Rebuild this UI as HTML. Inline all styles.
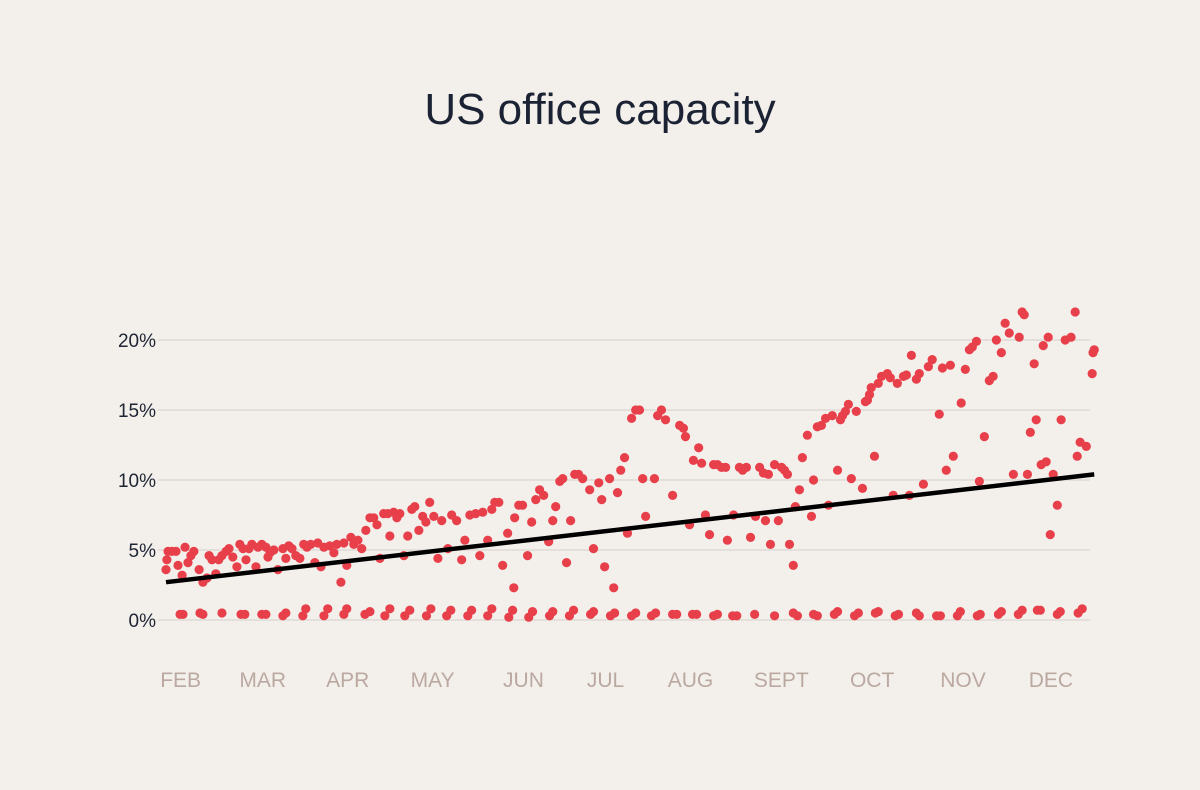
<!DOCTYPE html>
<html><head><meta charset="utf-8"><style>
html,body{margin:0;padding:0;background:#f3efeb;}
svg{display:block;font-family:"Liberation Sans",sans-serif;}
</style></head><body>
<svg id="chart" width="1200" height="790" viewBox="0 0 1200 790" xmlns="http://www.w3.org/2000/svg">
<rect width="1200" height="790" fill="#f3efeb"/>
<text x="600" y="124" text-anchor="middle" font-size="44" fill="#1a2233">US office capacity</text>
<g id="grid"></g>
<g id="yaxis"></g>
<g id="xaxis"></g>
<g id="dots"></g>
<g id="trend"></g>
</svg>
<script>
const yTicks = [0, 5, 10, 15, 20];
const yTickLabels = ["0%", "5%", "10%", "15%", "20%"];
const months = ["FEB","MAR","APR","MAY","JUN","JUL","AUG","SEPT","OCT","NOV","DEC"];
const monthDays = [5, 33, 62, 91, 122, 150, 179, 210, 241, 272, 302];
const weekdayDays = [0,0.3,0.7,2,3.4,4.1,5.5,6.5,7.5,8.5,9.5,11.3,12.6,14,14.7,15.7,17,18,19.1,20.5,21.5,22.8,24.2,25.2,26.3,27.3,28.3,29.3,30.7,31.4,32.7,34.1,34.8,35.5,36.8,38.2,39.9,40.9,41.9,43,44.3,45.7,47,48.1,49.4,50.8,51.8,52.9,53.9,55.9,57.3,58.3,59.7,60.7,61.7,63.1,64.1,65.5,66.8,68.2,69.6,70.9,72,73,74.3,75.7,76.4,77.7,78.8,79.8,81.2,82.5,83.9,84.9,86.3,87.6,88.7,90,91.4,92.8,94.1,96.2,97.5,99.2,100.9,102,103.7,105.7,107.1,108.1,109.8,111.2,112.2,113.6,114.9,116.6,118.7,119,120.4,121.7,123.4,124.8,126.2,127.5,128.9,130.6,132,133,134.4,135.4,136.7,138.1,139.5,140.8,142.2,144.6,145.9,147.7,148.7,149.7,151.4,152.8,154.1,155.2,156.5,157.5,158.9,160.3,161.6,162.7,163.7,166.7,167.8,169.1,170.5,172.9,175.3,176.6,177.3,178.7,180,181.8,182.8,184.1,185.5,186.9,188.2,189.6,191,191.6,193.7,195.7,196.8,198.1,199.5,201.2,202.6,203.9,204.6,205.6,206.3,207.7,209,210.1,211.1,212.1,212.8,214.1,214.8,216.2,217.2,218.9,220.3,221,222.3,223.7,225.1,226.1,227.4,229.2,230.2,230.9,231.9,232.9,233.9,235.6,237.7,238.7,239.4,240.1,240.7,241.8,243.1,244.2,246.2,247.2,248.2,249.6,251.7,252.7,253.7,254.4,256.1,257.1,258.5,260.2,261.5,263.9,265,266.3,267.7,268.7,271.4,272.8,274.2,275.2,276.6,277.6,279.3,281,282.3,283.4,285.1,286.4,287.8,289.2,291.2,292.2,292.9,294,295,296.3,297,298.7,299.4,300.4,301.1,301.8,302.8,304.2,305.5,306.9,308.9,310.3,311,312,314.1,316.1,316.4,316.8];
const weekdayValues = [3.6,4.3,4.9,4.9,4.9,3.9,3.2,5.2,4.1,4.6,4.9,3.6,2.7,3,4.6,4.3,3.3,4.3,4.6,4.9,5.1,4.5,3.8,5.4,5.1,4.3,5.1,5.4,3.8,5.2,5.4,5.2,4.5,4.8,5,3.6,5.1,4.4,5.3,5.1,4.6,4.4,5.4,5.2,5.4,4.1,5.5,3.8,5.2,5.3,4.8,5.4,2.7,5.5,3.9,5.9,5.4,5.7,5.1,6.4,7.3,7.3,6.8,4.4,7.6,7.6,6,7.7,7.3,7.6,4.6,6,7.9,8.1,6.4,7.4,7,8.4,7.4,4.4,7.1,5.1,7.5,7.1,4.3,5.7,7.5,7.6,4.6,7.7,5.7,7.9,8.4,8.4,3.9,6.2,2.3,7.3,8.2,8.2,4.6,7,8.6,9.3,8.9,5.6,7.1,8.1,9.9,10.1,4.1,7.1,10.4,10.4,10.1,9.3,5.1,9.8,8.6,3.8,10.1,2.3,9.1,10.7,11.6,6.2,14.4,15,15,10.1,7.4,10.1,14.6,15,14.3,8.9,13.9,13.7,13.1,6.8,11.4,12.3,11.2,7.5,6.1,11.1,11.1,10.9,10.9,5.7,7.5,10.9,10.7,10.9,5.9,7.4,10.9,10.5,7.1,10.4,5.4,11.1,7.1,10.9,10.7,10.4,5.4,3.9,8.1,9.3,11.6,13.2,7.4,10,13.8,13.9,14.4,8.2,14.6,10.7,14.3,14.6,14.9,15.4,10.1,14.9,9.4,15.6,15.7,16.1,16.6,11.7,16.9,17.4,17.6,17.3,8.9,16.9,17.4,17.5,8.9,18.9,17.2,17.6,9.7,18.1,18.6,14.7,18,10.7,18.2,11.7,15.5,17.9,19.3,19.5,19.9,9.9,13.1,17.1,17.4,20,19.1,21.2,20.5,10.4,20.2,22,21.8,10.4,13.4,18.3,14.3,11.1,19.6,11.3,20.2,6.1,10.4,8.2,14.3,20,20.2,22,11.7,12.7,12.4,17.6,19.1,19.3];
const weekendDays = [4.8,5.8,11.6,12.6,19.1,25.6,26.9,32.7,34.1,39.9,40.9,46.7,47.7,53.9,55.2,60.7,61.7,67.9,69.6,74.7,76.4,81.5,83.2,88.9,90.4,95.8,97.2,103,104.3,109.8,111.2,117,118.3,123.8,125.1,130.9,132,137.7,139.1,144.9,145.9,151.7,153.1,158.9,160.3,165.7,167.1,172.9,174.3,179.7,181.1,186.9,188.2,193.4,194.8,200.9,207.7,214.1,215.5,221,222.3,228.1,229.2,235,236.3,242.1,243.1,248.9,250,256.1,257.1,263,264.3,270.1,271.1,276.9,277.9,284.1,285.1,290.9,292.2,297.4,298.4,304.2,305.2,311.3,312.7];
const weekendValues = [0.4,0.4,0.5,0.4,0.5,0.4,0.4,0.4,0.4,0.3,0.5,0.3,0.8,0.3,0.8,0.4,0.8,0.4,0.6,0.3,0.8,0.3,0.7,0.3,0.8,0.3,0.7,0.3,0.7,0.3,0.8,0.2,0.7,0.2,0.6,0.3,0.6,0.3,0.7,0.4,0.6,0.3,0.5,0.3,0.5,0.3,0.5,0.4,0.4,0.4,0.4,0.3,0.4,0.3,0.3,0.4,0.3,0.5,0.3,0.4,0.3,0.4,0.6,0.3,0.5,0.5,0.6,0.3,0.4,0.5,0.3,0.3,0.3,0.3,0.6,0.3,0.4,0.4,0.6,0.4,0.7,0.7,0.7,0.4,0.6,0.5,0.8];
const trendDays = [0, 316.8];
const trendValues = [2.7, 10.4];

const NS = "http://www.w3.org/2000/svg";
const xS = d => 166 + d * 2.93;
const yS = v => 620 - v * 14;
function mk(tag, parent, attrs){const e=document.createElementNS(NS,tag);for(const k in attrs)e.setAttribute(k,attrs[k]);parent.appendChild(e);return e;}
const grid=document.getElementById('grid'), ya=document.getElementById('yaxis'), xa=document.getElementById('xaxis'), dots=document.getElementById('dots'), tr=document.getElementById('trend');
yTicks.forEach((t,i)=>{
  const l=mk('line',grid,{x1:158,x2:1090,y1:yS(t),y2:yS(t),stroke:'#dfdad5','stroke-width':1.5});
  
  
  const tx=mk('text',ya,{x:156,y:yS(t)+7,'text-anchor':'end','font-size':19,fill:'#1e2533'});
  tx.textContent=yTickLabels[i];
  
  
});
months.forEach((m,i)=>{
  const tx=mk('text',xa,{x:xS(monthDays[i]),y:687,'text-anchor':'middle','font-size':21,fill:'#bba9a1'});
  tx.textContent=m;
  
  
});
weekendDays.forEach((d,i)=>{
  if(weekendValues[i]===undefined) return;
  const c=mk('circle',dots,{cx:xS(d),cy:yS(weekendValues[i]),r:4.6,fill:'#e8404a'});
  
  
});
weekdayDays.forEach((d,i)=>{
  if(weekdayValues[i]===undefined) return;
  const c=mk('circle',dots,{cx:xS(d),cy:yS(weekdayValues[i]),r:4.6,fill:'#e8404a'});
  
  
});
const tl=mk('line',tr,{x1:xS(trendDays[0]),y1:yS(trendValues[0]),x2:xS(trendDays[1]),y2:yS(trendValues[1]),stroke:'#000','stroke-width':4.5});


</script>
</body></html>
